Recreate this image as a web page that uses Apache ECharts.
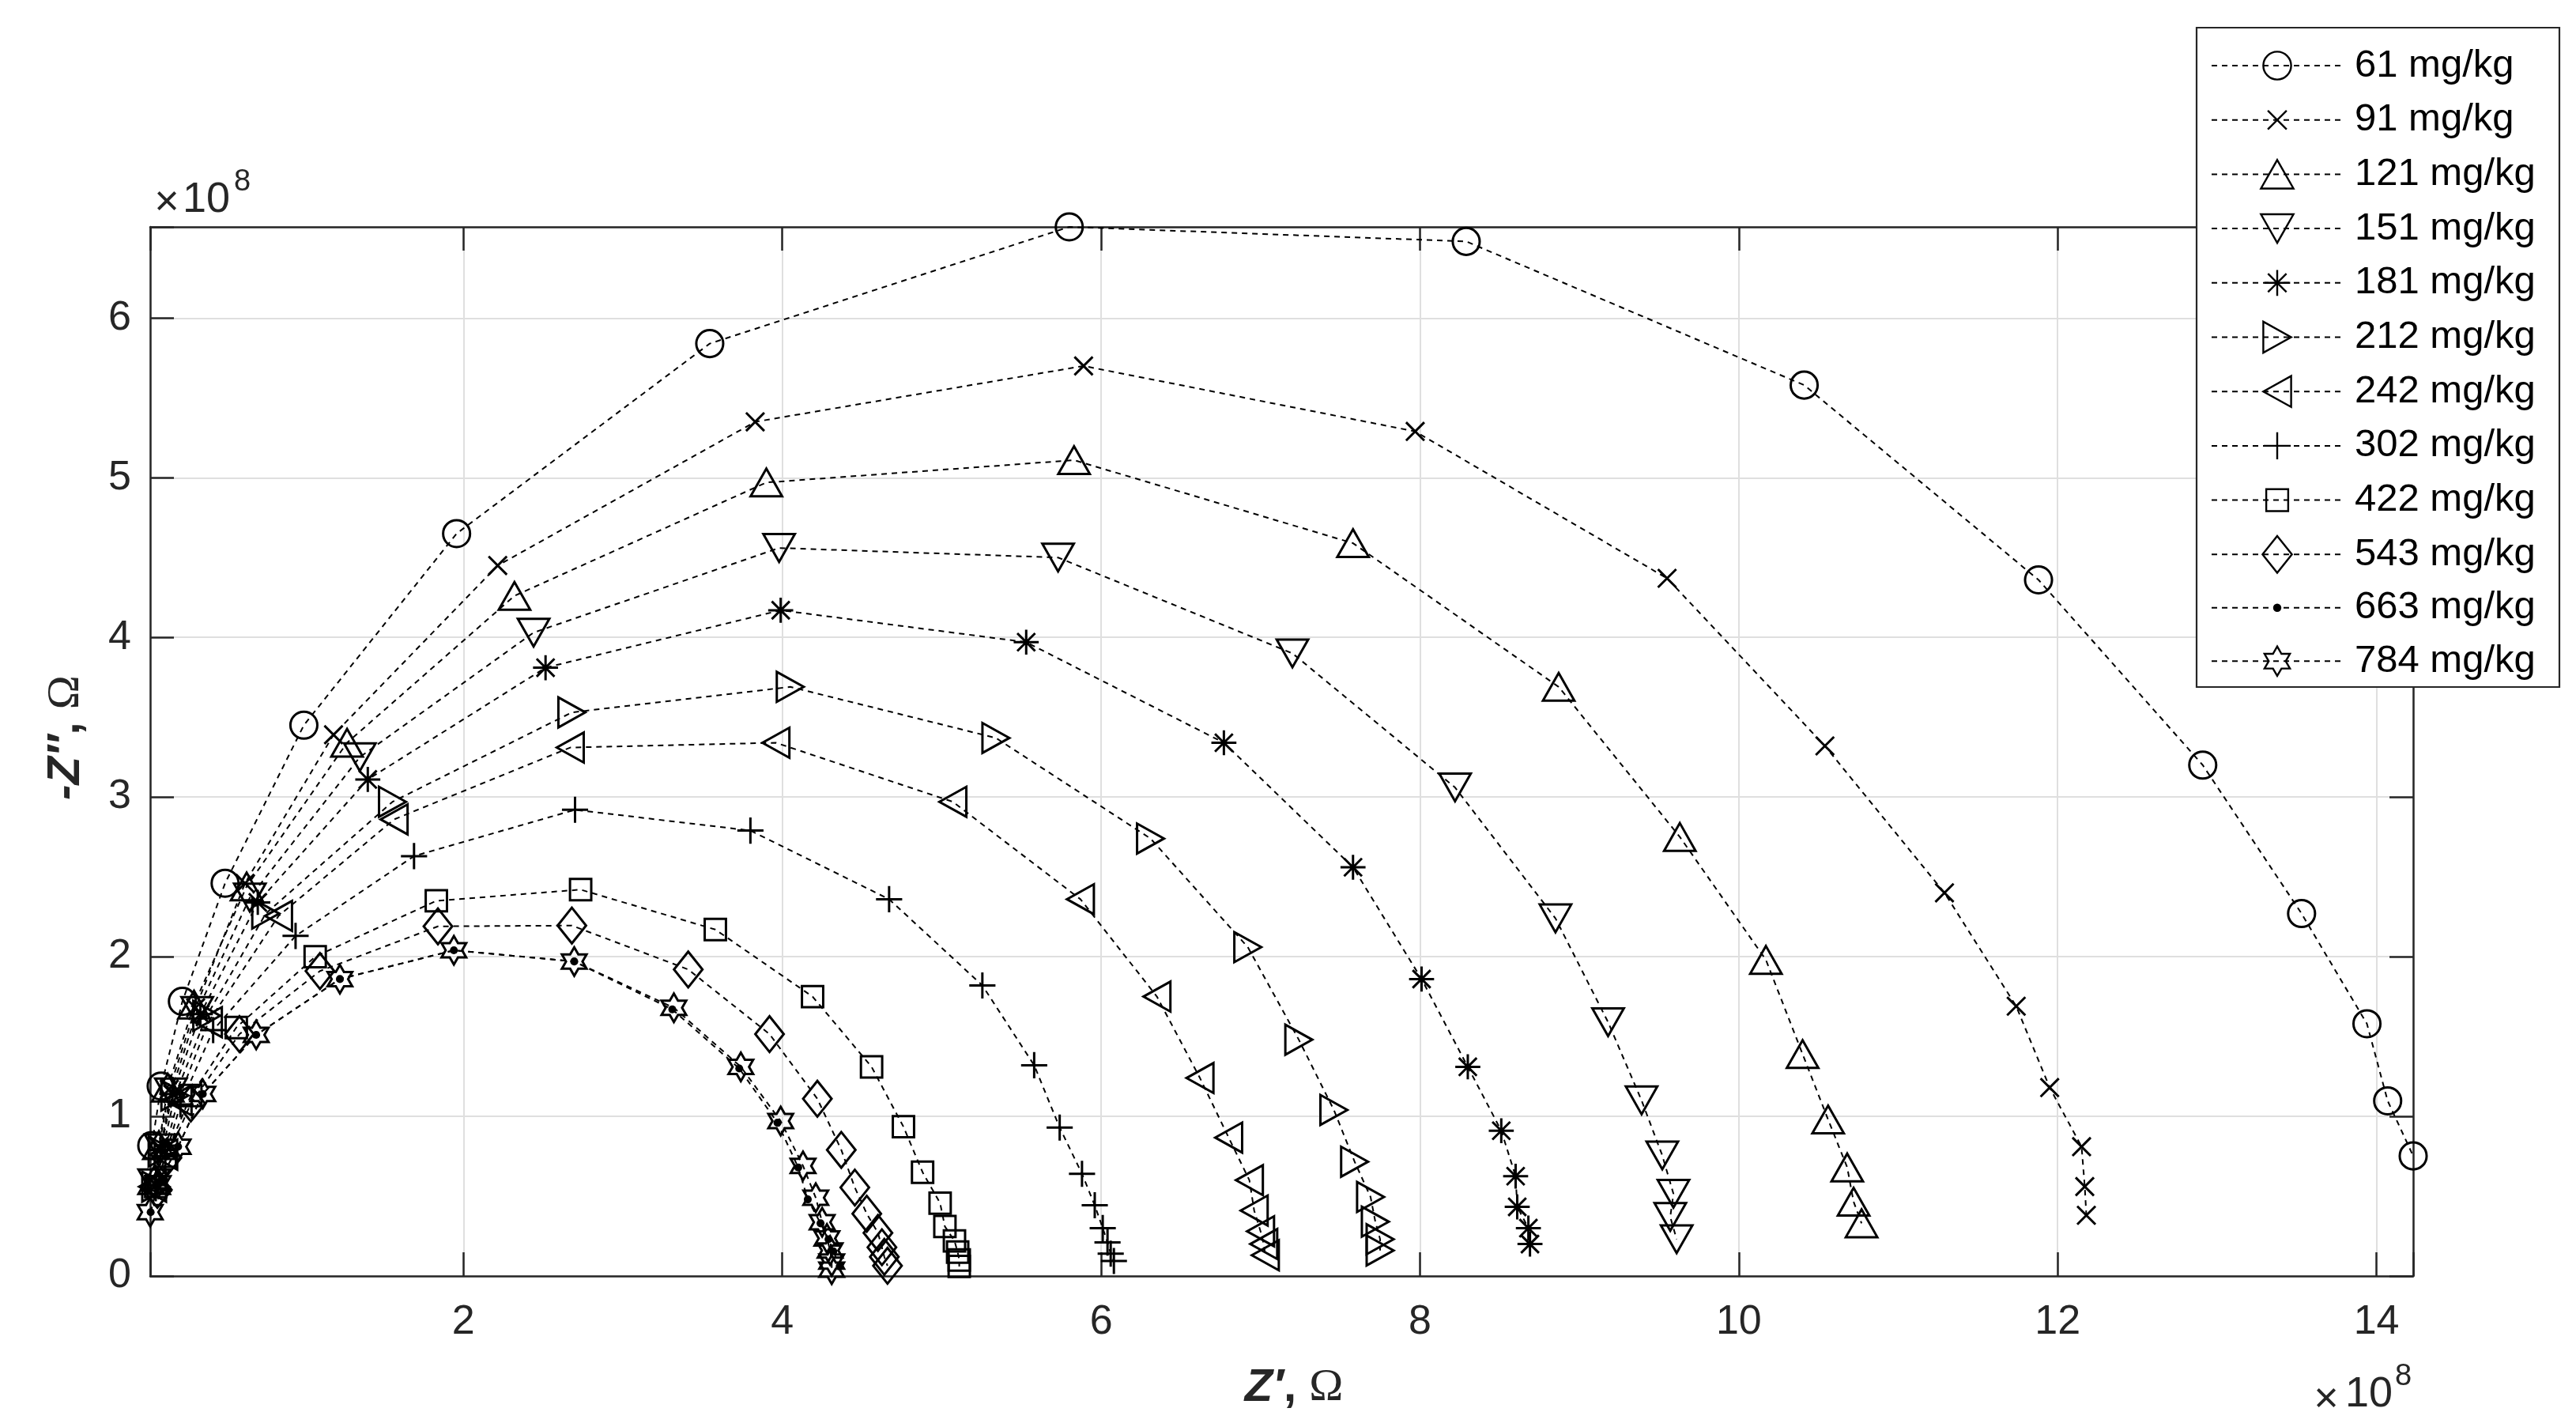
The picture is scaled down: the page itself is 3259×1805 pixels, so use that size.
<!DOCTYPE html>
<html>
<head>
<meta charset="utf-8">
<script src="https://cdn.jsdelivr.net/npm/echarts@6/dist/echarts.min.js"></script>
<style>
html,body{margin:0;padding:0;background:#fff;}
#chart{width:3259px;height:1805px;}
</style>
</head>
<body>
<div id="chart"></div>
<script>
// ---------------- DATA (Z' and -Z'' in units of 1e8 Ohm) ----------------
const seriesNames = ['61 mg/kg','91 mg/kg','121 mg/kg','151 mg/kg','181 mg/kg','212 mg/kg',
                     '242 mg/kg','302 mg/kg','422 mg/kg','543 mg/kg','663 mg/kg','784 mg/kg'];

const z61 = [[0.045,0.817],[0.104,1.19],[0.237,1.72],[0.505,2.46],[0.999,3.45],[1.957,4.65],[3.545,5.84],
  [5.80,6.571],[8.29,6.48],[10.41,5.58],[11.88,4.36],[12.91,3.20],[13.53,2.27],[13.94,1.58],[14.07,1.097],[14.23,0.752]];
const z91 = [[0.06,0.58],[0.09,0.81],[0.155,1.17],[0.32,1.68],[0.63,2.46],[1.185,3.39],[2.215,4.45],[3.83,5.35],
  [5.89,5.70],[7.97,5.29],[9.55,4.37],[10.54,3.32],[11.29,2.40],[11.74,1.69],[11.95,1.18],[12.15,0.81],[12.17,0.56],[12.18,0.38]];
const z121 = [[0.06,0.60],[0.09,0.82],[0.145,1.18],[0.31,1.70],[0.64,2.44],[1.27,3.34],[2.32,4.26],[3.90,4.97],
  [5.83,5.11],[7.58,4.59],[8.87,3.69],[9.63,2.75],[10.17,1.98],[10.40,1.39],[10.56,0.98],[10.68,0.68],[10.72,0.465],[10.77,0.33]];
const z151 = [[0.06,0.58],[0.10,0.80],[0.165,1.15],[0.33,1.66],[0.66,2.37],[1.35,3.25],[2.44,4.03],[3.98,4.56],
  [5.73,4.50],[7.20,3.90],[8.22,3.06],[8.85,2.24],[9.18,1.59],[9.39,1.10],[9.52,0.755],[9.59,0.515],[9.57,0.37],[9.61,0.23]];
const z181 = [[0.07,0.57],[0.10,0.79],[0.175,1.14],[0.35,1.64],[0.71,2.34],[1.40,3.11],[2.515,3.81],[3.99,4.17],
  [5.53,3.97],[6.77,3.34],[7.58,2.56],[8.01,1.86],[8.30,1.31],[8.51,0.91],[8.60,0.625],[8.61,0.433],[8.68,0.30],[8.69,0.20]];
const z212 = [[0.07,0.56],[0.11,0.78],[0.19,1.13],[0.39,1.63],[0.76,2.27],[1.555,2.97],[2.68,3.53],[4.05,3.69],
  [5.34,3.37],[6.31,2.74],[6.92,2.06],[7.24,1.48],[7.46,1.04],[7.59,0.716],[7.69,0.495],[7.72,0.34],[7.75,0.23],[7.75,0.16]];
const z242 = [[0.05,0.56],[0.12,0.76],[0.21,1.10],[0.40,1.59],[0.84,2.255],[1.565,2.86],[2.67,3.31],[3.96,3.34],
  [5.07,2.97],[5.87,2.36],[6.35,1.75],[6.62,1.24],[6.80,0.867],[6.93,0.60],[6.96,0.41],[7.00,0.28],[7.02,0.20],[7.03,0.13]];
const z302 = [[0.07,0.55],[0.13,0.75],[0.225,1.075],[0.43,1.54],[0.947,2.13],[1.69,2.63],[2.70,2.92],[3.80,2.79],
  [4.67,2.36],[5.255,1.82],[5.58,1.32],[5.74,0.93],[5.88,0.64],[5.96,0.443],[6.01,0.30],[6.04,0.21],[6.06,0.14],[6.08,0.094]];
const z422 = [[0.07,0.56],[0.13,0.75],[0.29,1.13],[0.575,1.556],[1.07,2.00],[1.83,2.35],[2.735,2.42],[3.58,2.17],
  [4.19,1.75],[4.56,1.31],[4.76,0.935],[4.88,0.65],[4.99,0.456],[5.02,0.31],[5.08,0.22],[5.10,0.15],[5.11,0.10],[5.11,0.06]];
const z543 = [[0.08,0.54],[0.14,0.74],[0.29,1.08],[0.595,1.515],[1.10,1.91],[1.84,2.19],[2.68,2.195],[3.41,1.92],
  [3.92,1.515],[4.22,1.11],[4.37,0.79],[4.455,0.554],[4.53,0.39],[4.60,0.27],[4.625,0.18],[4.64,0.12],[4.66,0.064]];
const z663 = [[0.038,0.40],[0.085,0.58],[0.21,0.81],[0.365,1.14],[0.70,1.51],[1.225,1.86],[1.94,2.04],[2.695,1.97],
  [3.31,1.67],[3.73,1.30],[3.97,0.96],[4.10,0.68],[4.16,0.48],[4.24,0.33],[4.29,0.23],[4.32,0.155],[4.36,0.06]];
const z784 = [[0.035,0.40],[0.085,0.58],[0.21,0.81],[0.365,1.14],[0.70,1.51],[1.225,1.86],[1.94,2.04],[2.695,1.97],
  [3.32,1.68],[3.74,1.31],[3.99,0.97],[4.13,0.69],[4.21,0.49],[4.25,0.337],[4.28,0.235],[4.30,0.16],[4.31,0.09],[4.31,0.04]];

const xTicks = [2,4,6,8,10,12,14];
const yTicks = [0,1,2,3,4,5,6];
const scaleBase = '10';
const scaleExp = '8';
const xTitle = {main:'Z′', rest:', ', unit:'Ω'};
const yTitle = {main:'-Z″', rest:', ', unit:'Ω'};

// ---------------- MARKERS (MATLAB-like, in a fixed 100x100 box) ----------------
const BOX = 'M0 0M100 100';
const mk = {
  circle:   'path://' + BOX + 'M14.5 50A35.5 35.5 0 1 1 85.5 50A35.5 35.5 0 1 1 14.5 50Z',
  cross:    'path://' + BOX + 'M26 26L74 74M74 26L26 74',
  triUp:    'path://' + BOX + 'M50 13.5L91.5 86.5L8.5 86.5Z',
  triDown:  'path://' + BOX + 'M50 86.5L8.5 13.5L91.5 13.5Z',
  aster:    'path://' + BOX + 'M50 17L50 83M17 50L83 50M26.5 26.5L73.5 73.5M73.5 26.5L26.5 73.5',
  triRight: 'path://' + BOX + 'M14.5 10.5L14.5 89.5L85.5 50Z',
  triLeft:  'path://' + BOX + 'M85.5 10.5L85.5 89.5L14.5 50Z',
  plus:     'path://' + BOX + 'M50 15.5L50 84.5M15.5 50L84.5 50',
  square:   'path://' + BOX + 'M22 22L78 22L78 78L22 78Z',
  diamond:  'path://' + BOX + 'M50 3L87.5 50L50 97L12.5 50Z',
  dot:      'path://' + BOX + 'M39.5 50A10.5 10.5 0 1 1 60.5 50A10.5 10.5 0 1 1 39.5 50Z',
  hexa:     'path://' + BOX + 'M50 12.5L60.83 31.25L82.48 31.25L71.65 50L82.48 68.75L60.83 68.75L50 87.5L39.17 68.75L17.52 68.75L28.35 50L17.52 31.25L39.17 31.25Z'
};
const seriesData = [z61,z91,z121,z151,z181,z212,z242,z302,z422,z543,z663,z784];
const seriesMarkers = [mk.circle,mk.cross,mk.triUp,mk.triDown,mk.aster,mk.triRight,mk.triLeft,mk.plus,mk.square,mk.diamond,mk.dot,mk.hexa];

// axis limits: tight in x (like MATLAB axis tight), y from 0 to data max
let xMin = Infinity, xMax = -Infinity, yMax = -Infinity;
seriesData.forEach(s => s.forEach(p => { xMin = Math.min(xMin,p[0]); xMax = Math.max(xMax,p[0]); yMax = Math.max(yMax,p[1]); }));

const FONT = "'Liberation Sans', Arial, Helvetica, sans-serif";
const SERIF = "'Liberation Serif', 'Times New Roman', serif";
const AX = '#262626';
const GRIDC = '#dfdfdf';

function isTick(list, v){ return list.some(t => Math.abs(t - v) < 1e-6); }

const series = seriesData.map((d,i) => {
  const filled = seriesMarkers[i] === mk.dot;
  return {
    type:'line', name: seriesNames[i], data: d,
    symbol: seriesMarkers[i], symbolSize: 48, showSymbol: true,
    lineStyle: {color:'#000', width:2, type:[7,6]},
    itemStyle: filled ? {color:'#000', borderColor:'#000', borderWidth:0}
                      : {color:'transparent', borderColor:'#000', borderWidth:3},
    emphasis: {disabled:true}, silent:true, clip:false, animation:false
  };
});

const legendData = seriesNames.map((n,i) => ({
  name: n,
  itemStyle: seriesMarkers[i] === mk.dot ? {color:'#000', borderColor:'#000', borderWidth:0}
                                         : {color:'transparent', borderColor:'#000', borderWidth:2.4}
}));

const axisBase = {
  type:'value',
  axisLine:{show:true, onZero:false, lineStyle:{color:AX, width:2.5}},
  axisTick:{show:true, inside:true, length:30, lineStyle:{color:AX, width:2.5}},
};

const option = {
  backgroundColor:'#fff',
  animation:false,
  grid:{left:190, top:287, right:3259-3053, bottom:1805-1614, containLabel:false, outerBoundsMode:'none'},
  xAxis:[
    Object.assign({}, axisBase, {
      position:'bottom', min:xMin, max:xMax, splitNumber:7,
      axisLabel:{show:true, margin:33, fontSize:52, color:AX, fontFamily:FONT, showMinLabel:true, showMaxLabel:true,
        formatter: v => isTick(xTicks, v) ? String(Math.round(v)) : ''},
      splitLine:{show:true, lineStyle:{color:GRIDC, width:2}}
    }),
    Object.assign({}, axisBase, {
      position:'top', min:xMin, max:xMax, splitNumber:7,
      axisLabel:{show:false}, splitLine:{show:false}
    })
  ],
  yAxis:[
    Object.assign({}, axisBase, {
      position:'left', min:0, max:yMax, interval:1,
      axisLabel:{show:true, margin:24, fontSize:52, color:AX, fontFamily:FONT,
        formatter: v => isTick(yTicks, v) ? String(Math.round(v)) : ''},
      splitLine:{show:true, lineStyle:{color:GRIDC, width:2}}
    }),
    Object.assign({}, axisBase, {
      position:'right', min:0, max:yMax, interval:1,
      axisLabel:{show:false}, splitLine:{show:false}
    })
  ],
  legend:{
    show:true, orient:'vertical', left:2797, top:57, padding:0, itemGap:16.7,
    itemWidth:166, itemHeight:62, selectedMode:false, z:20,
    textStyle:{fontSize:49, color:'#000', fontFamily:FONT, padding:[0,0,0,10]},
    data: legendData
  },
  graphic:[
    {type:'rect', z:10, shape:{x:2779, y:35, width:459, height:834}, style:{fill:'#fff', stroke:AX, lineWidth:2.2}},
    // x10^8 near y axis
    {type:'text', z:5, x:211, y:257, style:{text:'×', fontSize:54, fontFamily:FONT, fill:AX, align:'center', verticalAlign:'middle'}},
    {type:'text', z:5, x:231, y:253, style:{text:scaleBase, fontSize:54, fontFamily:FONT, fill:AX, align:'left', verticalAlign:'middle'}},
    {type:'text', z:5, x:296, y:231, style:{text:scaleExp, fontSize:38, fontFamily:FONT, fill:AX, align:'left', verticalAlign:'middle'}},
    // x10^8 near x axis
    {type:'text', z:5, x:2943, y:1771, style:{text:'×', fontSize:54, fontFamily:FONT, fill:AX, align:'center', verticalAlign:'middle'}},
    {type:'text', z:5, x:2967, y:1764, style:{text:scaleBase, fontSize:54, fontFamily:FONT, fill:AX, align:'left', verticalAlign:'middle'}},
    {type:'text', z:5, x:3030, y:1742, style:{text:scaleExp, fontSize:38, fontFamily:FONT, fill:AX, align:'left', verticalAlign:'middle'}},
    // axis titles
    {type:'text', z:5, x:1637, y:1756, style:{
      text:'{m|' + xTitle.main + '}{r|' + xTitle.rest + '}{u|' + xTitle.unit + '}',
      align:'center', verticalAlign:'middle', fill:AX,
      rich:{
        m:{fontSize:58, fontFamily:FONT, fontWeight:'bold', fontStyle:'italic', fill:AX},
        r:{fontSize:58, fontFamily:FONT, fontWeight:'bold', fill:AX},
        u:{fontSize:58, fontFamily:SERIF, fill:AX}
      }}},
    {type:'text', z:5, x:84, y:933, rotation:Math.PI/2, style:{
      text:'{m|' + yTitle.main + '}{r|' + yTitle.rest + '}{u|' + yTitle.unit + '}',
      align:'center', verticalAlign:'middle', fill:AX,
      rich:{
        m:{fontSize:58, fontFamily:FONT, fontWeight:'bold', fontStyle:'italic', fill:AX},
        r:{fontSize:58, fontFamily:FONT, fontWeight:'bold', fill:AX},
        u:{fontSize:58, fontFamily:SERIF, fill:AX}
      }}}
  ],
  series: series
};

const chart = echarts.init(document.getElementById('chart'), null, {renderer:'canvas', width:3259, height:1805});
chart.setOption(option);
</script>
</body>
</html>
